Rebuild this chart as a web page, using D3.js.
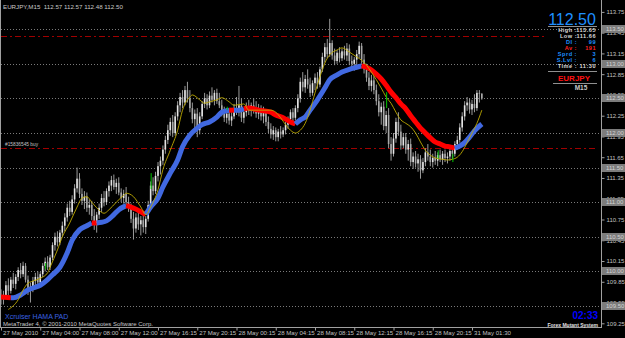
<!DOCTYPE html>
<html>
<head>
<meta charset="utf-8">
<script src="https://cdn.jsdelivr.net/npm/d3@7"></script>
<style>
    body { margin: 0; background: #000; }
    svg { display: block; font-family: "Liberation Sans", Arial, sans-serif; }
</style>
</head>
<body>
<div id="root"></div>
<script>
let symbolTitle = 'EURJPY,M15  112.57 112.57 112.48 112.50';

// open, high, low, close per M15 bar
let candles = [
    [109.64,109.74,109.52,109.60],[109.60,109.72,109.52,109.66],[109.66,109.86,109.60,109.80],[109.80,109.90,109.66,109.72],
    [109.72,109.92,109.68,109.88],[109.88,109.98,109.76,109.82],[109.82,109.96,109.74,109.92],[109.92,110.06,109.86,110.02],
    [110.02,110.12,109.90,109.96],[109.96,110.14,109.92,110.08],[110.08,110.12,109.84,109.88],[109.88,109.94,109.66,109.72],
    [109.72,109.84,109.55,109.78],[109.78,109.92,109.70,109.86],[109.86,109.98,109.78,109.92],[109.92,110.00,109.80,109.84],
    [109.84,109.99,109.80,109.96],[109.96,110.12,109.92,110.08],[110.08,110.20,110.00,110.14],[110.14,110.22,110.02,110.06],
    [110.06,110.24,110.02,110.20],[110.20,110.42,110.16,110.38],[110.38,110.56,110.30,110.50],[110.50,110.58,110.36,110.42],
    [110.42,110.60,110.38,110.56],[110.56,110.72,110.50,110.66],[110.66,110.84,110.58,110.78],[110.78,110.98,110.72,110.92],
    [110.92,111.02,110.80,110.86],[110.86,111.10,110.82,111.04],[111.04,111.26,110.98,111.20],[111.20,111.50,111.14,111.34],
    [111.34,111.42,111.06,111.12],[111.12,111.20,110.96,111.02],[111.02,111.16,110.90,111.08],[111.08,111.14,110.86,110.92],
    [110.92,111.04,110.82,110.96],[110.96,111.02,110.74,110.80],[110.80,110.90,110.60,110.70],[110.70,110.86,110.56,110.82],
    [110.82,110.98,110.76,110.92],[110.92,111.12,110.86,111.06],[111.06,111.16,110.94,111.00],[111.00,111.20,110.96,111.16],
    [111.16,111.30,111.08,111.24],[111.24,111.38,111.16,111.32],[111.32,111.40,111.18,111.22],[111.22,111.34,111.12,111.28],
    [111.28,111.36,111.10,111.14],[111.14,111.20,111.00,111.06],[111.06,111.18,110.98,111.12],[111.12,111.22,110.96,111.00],
    [111.00,111.08,110.86,110.92],[110.92,110.98,110.70,110.76],[110.76,110.86,110.46,110.62],[110.62,110.84,110.56,110.78],
    [110.78,110.88,110.60,110.68],[110.68,110.80,110.52,110.74],[110.74,110.82,110.56,110.64],[110.64,110.80,110.54,110.76],
    [110.76,111.02,110.72,110.96],[110.96,111.30,110.92,111.24],[111.24,111.36,111.10,111.16],[111.16,111.44,111.12,111.38],
    [111.38,111.58,111.30,111.52],[111.52,111.66,111.40,111.60],[111.60,111.82,111.54,111.76],[111.76,111.96,111.70,111.90],
    [111.90,112.12,111.84,112.04],[112.04,112.22,111.96,112.16],[112.16,112.26,111.94,112.00],[112.00,112.30,111.96,112.24],
    [112.24,112.46,112.18,112.40],[112.40,112.58,112.30,112.52],[112.52,112.62,112.36,112.44],[112.44,112.68,112.40,112.62],
    [112.62,112.74,112.44,112.50],[112.50,112.62,112.30,112.36],[112.36,112.44,112.14,112.20],[112.20,112.34,112.06,112.28],
    [112.28,112.36,111.94,112.04],[112.04,112.30,111.98,112.24],[112.24,112.46,112.20,112.42],[112.42,112.58,112.36,112.50],
    [112.50,112.56,112.34,112.40],[112.40,112.60,112.36,112.54],[112.54,112.66,112.44,112.48],[112.48,112.62,112.40,112.58],
    [112.58,112.64,112.42,112.46],[112.46,112.58,112.36,112.40],[112.40,112.48,112.24,112.30],[112.30,112.38,112.16,112.22],
    [112.22,112.36,112.14,112.28],[112.28,112.34,112.12,112.18],[112.18,112.30,112.10,112.24],[112.24,112.42,112.20,112.36],
    [112.36,112.52,112.26,112.30],[112.30,112.68,112.24,112.40],[112.40,112.50,112.16,112.22],[112.22,112.36,112.14,112.30],
    [112.30,112.44,112.24,112.38],[112.38,112.48,112.26,112.32],[112.32,112.44,112.24,112.40],[112.40,112.50,112.28,112.34],
    [112.34,112.46,112.22,112.28],[112.28,112.42,112.20,112.36],[112.36,112.40,112.18,112.24],[112.24,112.38,112.14,112.30],
    [112.30,112.34,112.10,112.16],[112.16,112.24,112.00,112.06],[112.06,112.14,111.92,111.98],[111.98,112.10,111.90,112.04],
    [112.04,112.08,111.88,111.94],[111.94,112.06,111.88,112.02],[112.02,112.10,111.92,111.98],[111.98,112.08,111.94,112.04],
    [112.04,112.16,111.98,112.12],[112.12,112.24,112.06,112.20],[112.20,112.34,112.14,112.30],[112.30,112.36,112.16,112.22],
    [112.22,112.40,112.18,112.36],[112.36,112.56,112.30,112.50],[112.50,112.80,112.44,112.74],[112.74,112.88,112.60,112.66],
    [112.66,112.84,112.58,112.78],[112.78,112.92,112.64,112.70],[112.70,112.80,112.52,112.58],[112.58,112.76,112.54,112.72],
    [112.72,112.86,112.62,112.80],[112.80,112.88,112.64,112.70],[112.70,112.96,112.66,112.92],[112.92,113.16,112.88,113.10],
    [113.10,113.30,113.02,113.24],[113.24,113.36,113.08,113.14],[113.14,113.65,113.10,113.30],[113.30,113.34,113.06,113.12],
    [113.12,113.22,112.98,113.04],[113.04,113.20,113.00,113.16],[113.16,113.24,113.02,113.08],[113.08,113.22,113.04,113.18],
    [113.18,113.26,113.06,113.12],[113.12,113.30,113.04,113.22],[113.22,113.28,112.98,113.04],[113.04,113.12,112.92,113.00],
    [113.00,113.10,112.90,113.06],[113.06,113.20,112.98,113.14],[113.14,113.32,113.08,113.26],[113.26,113.30,113.00,113.06],
    [113.06,113.14,112.86,112.92],[112.92,113.00,112.74,112.80],[112.80,112.88,112.62,112.68],[112.68,112.84,112.60,112.76],
    [112.76,112.82,112.56,112.62],[112.62,112.70,112.40,112.46],[112.46,112.56,112.24,112.30],[112.30,112.44,112.12,112.38],
    [112.38,112.46,112.04,112.10],[112.10,112.32,112.00,112.26],[112.26,112.36,111.78,111.84],[111.84,111.94,111.60,111.70],
    [111.70,112.00,111.66,111.92],[111.92,112.22,111.86,112.16],[112.16,112.30,111.96,112.02],[112.02,112.12,111.76,111.82],
    [111.82,112.00,111.78,111.94],[111.94,112.00,111.70,111.76],[111.76,111.90,111.60,111.84],[111.84,111.92,111.52,111.58],
    [111.58,111.72,111.48,111.66],[111.66,111.74,111.50,111.56],[111.56,111.70,111.44,111.62],[111.62,111.68,111.34,111.46],
    [111.46,111.64,111.42,111.58],[111.58,111.78,111.52,111.72],[111.72,111.84,111.60,111.66],[111.66,111.76,111.52,111.58],
    [111.58,111.70,111.50,111.64],[111.64,111.74,111.54,111.60],[111.60,111.72,111.52,111.68],[111.68,111.76,111.58,111.62],
    [111.62,111.74,111.54,111.70],[111.70,111.76,111.58,111.64],[111.64,111.72,111.56,111.66],[111.66,111.78,111.60,111.74],
    [111.74,111.82,111.62,111.70],[111.70,111.88,111.66,111.84],[111.84,111.96,111.76,111.90],[111.90,112.14,111.86,112.08],
    [112.08,112.30,112.02,112.24],[112.24,112.46,112.18,112.40],[112.40,112.52,112.32,112.44],[112.44,112.50,112.28,112.34],
    [112.34,112.48,112.26,112.42],[112.42,112.56,112.30,112.36],[112.36,112.62,112.32,112.58],[112.58,112.62,112.44,112.57],
    [112.57,112.57,112.48,112.50]
];

// HAMA: bar index, value, trend
let hamaBars = [0,4,5,8,11,13,16,19,21,24,27,29,32,35,37,39,41,43,46,48,51,53,55,57,59,61,64,66,69,72,74,77,80,82,85,88,90,93,95,97,99,101,105,110,112,115,118,120,122,124,126,129,132,134,137,139,142,145,147,149,151,153,155,157,159,161,163,165,167,169,171,173,175,177,179,181,183,185,187,189,191,193,196];
let hamaValues = [109.63,109.62,109.62,109.66,109.73,109.76,109.80,109.88,109.95,110.06,110.27,110.45,110.60,110.66,110.70,110.70,110.71,110.73,110.82,110.89,110.95,110.93,110.90,110.86,110.82,110.93,111.06,111.22,111.42,111.61,111.80,111.97,112.07,112.12,112.16,112.23,112.30,112.33,112.33,112.33,112.35,112.36,112.33,112.30,112.26,112.22,112.16,112.13,112.19,112.23,112.33,112.48,112.65,112.77,112.84,112.88,112.92,112.95,112.97,112.95,112.91,112.85,112.78,112.69,112.59,112.51,112.42,112.35,112.25,112.16,112.07,112.00,111.93,111.87,111.84,111.81,111.80,111.78,111.81,111.86,111.94,112.03,112.13];
let hamaTrend = ['d','d','u','u','u','u','u','u','u','u','u','u','u','u','u','d','u','u','u','u','u','d','d','d','d','u','u','u','u','u','u','u','u','u','u','u','u','u','d','u','u','d','d','d','d','d','d','d','u','u','u','u','u','u','u','u','u','u','u','d','d','d','d','d','d','d','d','d','d','d','d','d','d','d','d','d','d','d','u','u','u','u','u'];

// yellow moving average
let maBars = [3,7,9,11,13,16,19,20,23,25,28,31,33,35,37,39,42,44,47,50,51,54,57,59,61,64,66,69,72,74,77,78,81,83,85,88,90,93,95,99,101,105,110,112,114,116,118,120,122,124,126,128,130,132,134,137,139,142,145,147,149,151,153,155,157,159,161,163,165,167,169,171,173,175,177,180,182,184,186,188,190,192,194,196];
let maValues = [109.45,109.59,109.73,109.83,109.86,109.90,109.98,110.06,110.31,110.50,110.70,110.93,111.06,111.08,111.00,110.92,110.84,110.89,111.00,111.10,111.13,111.08,110.93,110.82,110.93,111.18,111.47,111.75,112.04,112.33,112.52,112.55,112.48,112.43,112.45,112.48,112.51,112.45,112.40,112.42,112.33,112.33,112.33,112.30,112.22,112.12,112.04,112.00,112.04,112.14,112.33,112.58,112.81,113.01,113.13,113.20,113.23,113.17,113.10,113.05,112.98,112.88,112.77,112.65,112.52,112.43,112.30,112.19,112.14,112.09,112.00,111.87,111.75,111.68,111.64,111.62,111.61,111.62,111.65,111.73,111.86,112.00,112.14,112.33];

// green signal marks: bar, high, low
let signalBars = [18, 61, 92, 157, 178, 184];
let signalHigh = [110.12, 111.42, 112.38, 112.59, 111.75, 111.70];
let signalLow = [110.03, 111.19, 112.33, 112.36, 111.63, 111.58];

let priceTicks = [113.75,113.45,113.15,112.85,112.55,112.25,111.95,111.65,111.35,111.05,110.75,110.45,110.15,109.85,109.55,109.25];
let levelLines = [113.50,113.00,112.50,112.00,111.50,111.00,110.50,110.00,109.50];
let orderLines = [113.40, 111.78];
let orderLabel = '#15836545 buy';

let timeBars = [0,16,32,48,64,80,96,112,128,144,160,176,192];
let timeLabels = ['27 May 2010','27 May 04:00','27 May 08:00','27 May 12:00','27 May 16:15','27 May 20:15','28 May 00:15','28 May 04:15','28 May 08:15','28 May 12:15','28 May 16:15','28 May 20:15','31 May 01:30'];

let bidPrice = '112.50';
let panelLabels = ['High :', 'Low :', 'DI :', 'Av :', 'Sprd :', 'S.Lvl :', 'Time :'];
let panelValues = ['113.65', '111.66', '99', '191', '3', '6', '11:30'];
let panelSymbol = 'EURJPY';
let panelPeriod = 'M15';
let candleTimer = '02:33';
let systemName = 'Forex Mutant System';
let indicatorName = 'Xcruiser HAMA PAD';
let copyright = 'MetaTrader 4, \u00a9 2001-2010 MetaQuotes Software Corp.';

const W = 625, H = 338;
const plotRight = 601, plotBottom = 328;

function render() {
    let svg = d3.select('#root').append('svg')
        .attr('width', W)
        .attr('height', H)
        .style('background', '#000');

    let x = d3.scaleLinear().domain([0, 192]).range([1, 472]);
    let y = d3.scaleLinear().domain([109.5, 113.5]).range([306, 29.2]);

    // grid / level lines
    svg.append('g').selectAll('line')
        .data(levelLines)
        .join('line')
        .attr('x1', 1).attr('x2', plotRight)
        .attr('y1', d => Math.round(y(d)) + 0.5).attr('y2', d => Math.round(y(d)) + 0.5)
        .attr('stroke', '#7a7a7a')
        .attr('stroke-dasharray', '1,2');

    svg.append('g').selectAll('line')
        .data(orderLines)
        .join('line')
        .attr('x1', 1).attr('x2', (d, i) => i === 0 ? 547 : plotRight - 3)
        .attr('y1', d => Math.round(y(d)) + 0.5).attr('y2', d => Math.round(y(d)) + 0.5)
        .attr('stroke', '#a00000')
        .attr('stroke-dasharray', '6,3,2,3');

    svg.append('text')
        .attr('x', 5).attr('y', y(orderLines[1]) - 2.5)
        .attr('font-size', 4.8)
        .attr('fill', '#c0c0c0')
        .text(orderLabel);

    // candles
    let bars = svg.append('g');
    bars.selectAll('line')
        .data(candles)
        .join('line')
        .attr('x1', (d, i) => x(i)).attr('x2', (d, i) => x(i))
        .attr('y1', d => y(d[1])).attr('y2', d => y(d[2]))
        .attr('stroke', '#9a9a9a')
        .attr('stroke-width', 1);
    bars.selectAll('rect')
        .data(candles)
        .join('rect')
        .attr('x', (d, i) => x(i) - 0.8)
        .attr('width', 1.6)
        .attr('y', d => y(Math.max(d[0], d[3])))
        .attr('height', d => Math.max(0.8, Math.abs(y(d[0]) - y(d[3]))))
        .attr('fill', d => d[3] >= d[0] ? '#e4e4e4' : '#a8a8a8');

    // HAMA band, one path per colour run
    let hama = hamaBars.map((b, i) => ({ b, v: hamaValues[i], t: hamaTrend[i] }));
    let runs = [];
    for (let i = 1; i < hama.length; i++) {
        let last = runs[runs.length - 1];
        if (last && last.t === hama[i].t) {
            last.pts.push(hama[i]);
        } else {
            runs.push({ t: hama[i].t, pts: [hama[i - 1], hama[i]] });
        }
    }
    let hamaLine = d3.line().x(d => x(d.b)).y(d => y(d.v)).curve(d3.curveMonotoneX);
    svg.append('g').selectAll('path')
        .data(runs)
        .join('path')
        .attr('d', d => hamaLine(d.pts))
        .attr('fill', 'none')
        .attr('stroke', d => d.t === 'u' ? '#4169e1' : '#ff0000')
        .attr('stroke-width', 5);

    // yellow average
    let maLine = d3.line().x((d, i) => x(maBars[i])).y(d => y(d)).curve(d3.curveMonotoneX);
    svg.append('path')
        .attr('d', maLine(maValues))
        .attr('fill', 'none')
        .attr('stroke', '#c0ac00')
        .attr('stroke-width', 0.9);

    svg.append('g').selectAll('line')
        .data(signalBars)
        .join('line')
        .attr('x1', d => x(d) + 0.5).attr('x2', d => x(d) + 0.5)
        .attr('y1', (d, i) => y(signalHigh[i])).attr('y2', (d, i) => y(signalLow[i]))
        .attr('stroke', '#00c800')
        .attr('stroke-width', 1);

    // frame
    svg.append('line').attr('x1', 0.5).attr('x2', 0.5).attr('y1', 0).attr('y2', plotBottom).attr('stroke', '#a0a0a0');
    svg.append('line').attr('x1', plotRight + 0.5).attr('x2', plotRight + 0.5).attr('y1', 0).attr('y2', plotBottom).attr('stroke', '#a0a0a0');
    svg.append('line').attr('x1', 0).attr('x2', plotRight + 1).attr('y1', plotBottom - 0.5).attr('y2', plotBottom - 0.5).attr('stroke', '#a0a0a0');

    // price axis
    let yAxis = svg.append('g')
        .attr('transform', `translate(${plotRight + 0.5},0)`)
        .call(d3.axisRight(y).tickValues(priceTicks).tickFormat(d3.format('.2f')).tickSize(3).tickPadding(2));
    yAxis.select('.domain').remove();
    yAxis.selectAll('line').attr('stroke', '#a0a0a0');
    yAxis.selectAll('text').attr('fill', '#c0c0c0').attr('font-size', 6).attr('font-family', null);

    let boxes = svg.append('g').selectAll('g')
        .data(levelLines)
        .join('g')
        .attr('transform', d => `translate(${plotRight + 1},${Math.round(y(d))})`);
    boxes.append('rect')
        .attr('x', 0).attr('y', -4).attr('width', 23).attr('height', 8)
        .attr('fill', '#7c7c7c');
    boxes.append('text')
        .attr('x', 4).attr('y', 2.3)
        .attr('font-size', 6)
        .attr('fill', '#d4d4d4')
        .text(d => d3.format('.2f')(d));

    // time axis
    let xAxis = svg.append('g')
        .attr('transform', `translate(0,${plotBottom - 0.5})`)
        .call(d3.axisBottom(x).tickValues(timeBars).tickFormat((d, i) => timeLabels[i]).tickSize(3).tickPadding(1));
    xAxis.select('.domain').remove();
    xAxis.selectAll('line').attr('stroke', '#a0a0a0');
    xAxis.selectAll('text')
        .attr('fill', '#c0c0c0')
        .attr('font-size', 6.1)
        .attr('font-family', null)
        .attr('text-anchor', 'start')
        .attr('x', 1.5)
        .attr('dy', '0.55em');

    // header
    svg.append('text')
        .attr('x', 3).attr('y', 8.5)
        .attr('font-size', 6.2)
        .attr('fill', '#c8c8c8')
        .attr('xml:space', 'preserve')
        .text(symbolTitle);

    // info panel
    svg.append('text')
        .attr('x', 572).attr('y', 25)
        .attr('text-anchor', 'middle')
        .attr('font-size', 16)
        .attr('fill', '#1e90ff')
        .text(bidPrice);

    let sepY = [26.5, 71.5];
    svg.append('g').selectAll('line')
        .data(sepY)
        .join('line')
        .attr('x1', 548).attr('x2', 597)
        .attr('y1', d => d).attr('y2', d => d)
        .attr('stroke', '#909090');
    svg.append('line').attr('x1', 553).attr('x2', 597).attr('y1', 83.5).attr('y2', 83.5).attr('stroke', '#909090');

    let rowColors = ['#d8d8d8', '#d8d8d8', '#1e90ff', '#ff2020', '#1e90ff', '#1e90ff', '#d8d8d8'];
    let rows = svg.append('g').selectAll('g')
        .data(panelLabels)
        .join('g')
        .attr('transform', (d, i) => `translate(0,${32 + i * 6})`)
        .attr('font-size', 5.6)
        .attr('font-weight', 'bold')
        .attr('letter-spacing', 0.5)
        .attr('fill', (d, i) => rowColors[i]);
    rows.append('text').attr('x', 577).attr('text-anchor', 'end').text(d => d);
    rows.append('text').attr('x', 596).attr('text-anchor', 'end').text((d, i) => panelValues[i]);

    svg.append('text')
        .attr('x', 574).attr('y', 81)
        .attr('text-anchor', 'middle')
        .attr('font-size', 8)
        .attr('font-weight', 'bold')
        .attr('fill', '#ff1010')
        .text(panelSymbol);
    svg.append('text')
        .attr('x', 581).attr('y', 90)
        .attr('text-anchor', 'middle')
        .attr('font-size', 6.5)
        .attr('font-weight', 'bold')
        .attr('fill', '#c8c8c8')
        .text(panelPeriod);

    // bottom captions
    svg.append('text')
        .attr('x', 598).attr('y', 319)
        .attr('text-anchor', 'end')
        .attr('font-size', 10)
        .attr('font-weight', 'bold')
        .attr('fill', '#0000ff')
        .text(candleTimer);
    svg.append('text')
        .attr('x', 598).attr('y', 326.5)
        .attr('text-anchor', 'end')
        .attr('font-size', 5)
        .attr('font-weight', 'bold')
        .attr('fill', '#e0e0e0')
        .text(systemName);
    svg.append('text')
        .attr('x', 5).attr('y', 318.5)
        .attr('font-size', 7)
        .attr('fill', '#3a62e0')
        .text(indicatorName);
    svg.append('text')
        .attr('x', 3).attr('y', 325.5)
        .attr('font-size', 6)
        .attr('fill', '#c8c8c8')
        .text(copyright);
}

render();
</script>
</body>
</html>
